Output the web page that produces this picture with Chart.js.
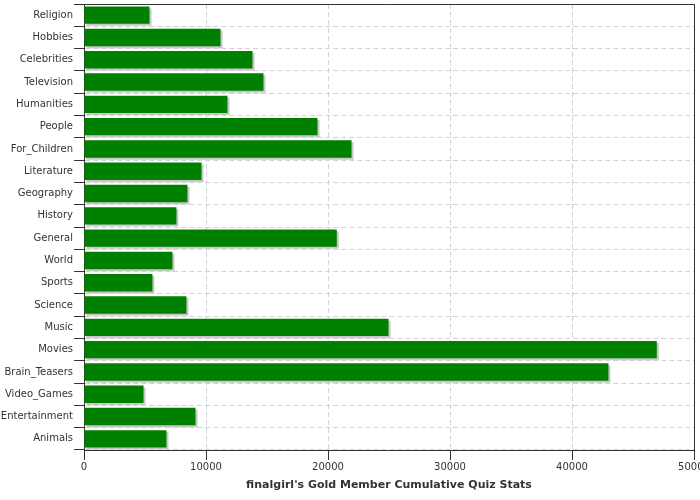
<!DOCTYPE html>
<html><head><meta charset="utf-8">
<script src="https://cdn.jsdelivr.net/npm/chart.js"></script>
<style>html,body{margin:0;padding:0;background:#fff}</style>
</head><body>
<canvas id="c" width="700" height="500"></canvas>
<script>
const categories = ["Religion","Hobbies","Celebrities","Television","Humanities","People","For_Children","Literature","Geography","History","General","World","Sports","Science","Music","Movies","Brain_Teasers","Video_Games","Entertainment","Animals"];
const values = [5370,11190,13810,14710,11760,19140,21930,9630,8480,7580,20720,7250,5610,8400,24960,46950,42990,4880,9140,6760];
const xMin = 0, xMax = 50000, xStep = 10000;
const chartTitle = "finalgirl's Gold Member Cumulative Quiz Stats";

const shadowPlugin = {
  id: 'barShadow',
  beforeDatasetsDraw(chart) {
    const ctx = chart.ctx;
    ctx.save();
    ctx.shadowColor = '#c8c8c8';
    ctx.shadowOffsetX = 2;
    ctx.shadowOffsetY = 2;
    ctx.shadowBlur = 0;
  },
  afterDatasetsDraw(chart) {
    chart.ctx.restore();
    const a = chart.chartArea, ctx = chart.ctx;
    ctx.save();
    ctx.strokeStyle = '#333';
    ctx.lineWidth = 1;
    ctx.beginPath();
    ctx.moveTo(Math.round(a.left) + 0.5, Math.round(a.top) + 0.5);
    ctx.lineTo(Math.round(a.right) + 0.5, Math.round(a.top) + 0.5);
    ctx.lineTo(Math.round(a.right) + 0.5, Math.round(a.bottom) + 0.5);
    ctx.stroke();
    ctx.restore();
  }
};

const font = { family: 'DejaVu Sans', size: 10 };
new Chart(document.getElementById('c'), {
  type: 'bar',
  data: {
    labels: categories,
    datasets: [{
      data: values,
      backgroundColor: '#008000',
      borderWidth: 0,
      barPercentage: 0.78,
      categoryPercentage: 1
    }]
  },
  options: {
    indexAxis: 'y',
    responsive: false,
    animation: false,
    layout: { padding: { left: 0, right: 6, top: 4, bottom: 0 } },
    plugins: { legend: { display: false }, tooltip: { enabled: false }, title: { display: false } },
    scales: {
      x: {
        min: xMin, max: xMax,
        ticks: { stepSize: xStep, color: '#333', font: font, padding: 1, maxRotation: 0, callback: v => String(v) },
        grid: { color: '#d0d4d8', tickColor: '#333', tickLength: 10, lineWidth: 1 },
        border: { display: true, color: '#333', width: 1, dash: [5, 3] },
        title: { display: true, text: chartTitle, color: '#333', font: { family: 'DejaVu Sans', size: 11, weight: 'bold' }, padding: { top: 4, bottom: 8 } },
        afterFit(scale) { scale.height = 50; scale.paddingLeft = 0; scale.paddingRight = 0; }
      },
      y: {
        ticks: { color: '#333', font: font, padding: 1 },
        grid: { color: '#d0d4d8', tickColor: '#333', tickLength: 10, lineWidth: 1, offset: true },
        border: { display: true, color: '#333', width: 1, dash: [5, 3] },
        afterFit(scale) { scale.width = 84; scale.paddingTop = 0; scale.paddingBottom = 0; }
      }
    }
  },
  plugins: [shadowPlugin]
});
</script>
</body></html>
